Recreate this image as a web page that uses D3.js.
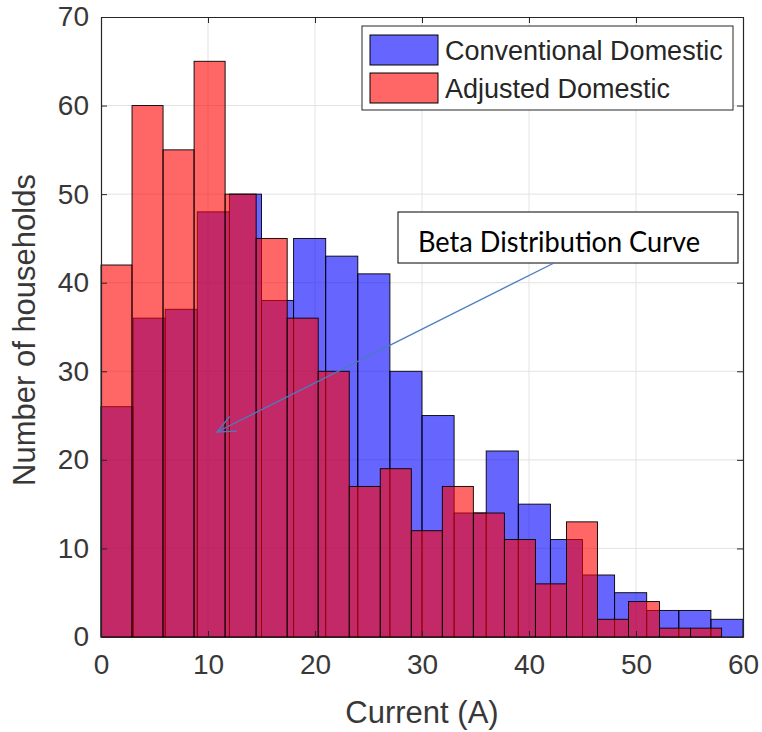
<!DOCTYPE html>
<html>
<head>
<meta charset="utf-8">
<script src="https://cdn.jsdelivr.net/npm/d3@7"></script>
<style>
  body { margin: 0; background: #fff; }
  svg { display: block; }
</style>
</head>
<body>
<div id="chart"></div>
<script>
// histogram bin edges (A) and counts
var blueEdges = [0, 3, 6, 9, 12, 15, 18, 21, 24, 27, 30, 33, 36, 39, 42, 45, 48, 51, 54, 57, 60];
var blueCounts = [26, 36, 37, 48, 50, 38, 45, 43, 41, 30, 25, 14, 21, 15, 11, 7, 5, 3, 3, 2];

var redEdges = [0, 2.9, 5.8, 8.7, 11.6, 14.5, 17.4, 20.3, 23.2, 26.1, 29, 31.9, 34.8, 37.7, 40.6, 43.5, 46.4, 49.3, 52.2, 55.1, 58];
var redCounts = [42, 60, 55, 65, 50, 45, 36, 30, 17, 19, 12, 17, 14, 11, 6, 13, 2, 4, 1, 1];

var seriesNames = ["Conventional Domestic", "Adjusted Domestic"];
var xTicks = [0, 10, 20, 30, 40, 50, 60];
var yTicks = [0, 10, 20, 30, 40, 50, 60, 70];

var width = 762, height = 732;
var margin = {top: 17, right: 19, bottom: 95, left: 101};
var w = width - margin.left - margin.right,
    h = height - margin.top - margin.bottom;

var axisColor = "#262626";
var font = "'Liberation Sans', Arial, Helvetica, sans-serif";

var svg = d3.select("#chart")
  .append("svg")
  .attr("width", width)
  .attr("height", height)
  .append("g")
  .attr("transform", "translate(" + margin.left + "," + margin.top + ")");

var x = d3.scaleLinear().domain([0, 60]).range([0, w]);
var y = d3.scaleLinear().domain([0, 70]).range([h, 0]);

// grid
svg.append("g")
  .selectAll("line")
  .data(xTicks.slice(1, -1))
  .enter()
  .append("line")
    .attr("x1", function(d) { return x(d); })
    .attr("x2", function(d) { return x(d); })
    .attr("y1", 0)
    .attr("y2", h)
    .attr("stroke", "#e3e3e3")
    .attr("stroke-width", 1);

svg.append("g")
  .selectAll("line")
  .data(yTicks.slice(1, -1))
  .enter()
  .append("line")
    .attr("y1", function(d) { return y(d); })
    .attr("y2", function(d) { return y(d); })
    .attr("x1", 0)
    .attr("x2", w)
    .attr("stroke", "#e3e3e3")
    .attr("stroke-width", 1);

// bars, blue first then red on top
function drawHist(edges, counts, color) {
  var bins = counts.map(function(c, i) { return {x0: edges[i], x1: edges[i + 1], n: c}; });
  svg.append("g")
    .selectAll("rect")
    .data(bins)
    .enter()
    .append("rect")
      .attr("x", function(d) { return x(d.x0); })
      .attr("width", function(d) { return x(d.x1) - x(d.x0); })
      .attr("y", function(d) { return y(d.n); })
      .attr("height", function(d) { return y(0) - y(d.n); })
      .attr("fill", color)
      .attr("fill-opacity", 0.6)
      .attr("stroke", "#000")
      .attr("stroke-width", 0.9);
}
drawHist(blueEdges, blueCounts, "#0000ff");
drawHist(redEdges, redCounts, "#ff0000");

// axes with inward ticks
var xAxis = svg.append("g")
  .attr("transform", "translate(0," + h + ")")
  .call(d3.axisBottom(x).tickValues(xTicks).tickSizeInner(-6).tickSizeOuter(0).tickPadding(17));
var yAxis = svg.append("g")
  .call(d3.axisLeft(y).tickValues(yTicks).tickSizeInner(-6).tickSizeOuter(0).tickPadding(12));
svg.append("g")
  .call(d3.axisTop(x).tickValues(xTicks).tickSizeInner(-6).tickSizeOuter(0).tickFormat(""));
svg.append("g")
  .attr("transform", "translate(" + w + ",0)")
  .call(d3.axisRight(y).tickValues(yTicks).tickSizeInner(-6).tickSizeOuter(0).tickFormat(""));

svg.selectAll(".domain").attr("stroke", axisColor).attr("stroke-width", 1.2);
svg.selectAll(".tick line").attr("stroke", axisColor);
svg.selectAll(".tick text")
  .attr("fill", "#383838")
  .style("font-family", font)
  .style("font-size", "28px");

// axis titles
svg.append("text")
  .attr("x", w / 2)
  .attr("y", h + 86)
  .attr("text-anchor", "middle")
  .attr("fill", "#383838")
  .style("font-family", font)
  .style("font-size", "31px")
  .text("Current (A)");

svg.append("text")
  .attr("transform", "rotate(-90)")
  .attr("x", -(313))
  .attr("y", -66)
  .attr("text-anchor", "middle")
  .attr("fill", "#383838")
  .style("font-family", font)
  .style("font-size", "31px")
  .text("Number of households");

// legend
var legend = svg.append("g").attr("transform", "translate(" + (362 - margin.left) + "," + (26 - margin.top) + ")");
legend.append("rect")
  .attr("width", 371)
  .attr("height", 84)
  .attr("fill", "#fff")
  .attr("stroke", axisColor)
  .attr("stroke-width", 1);

var legendColors = ["#0000ff", "#ff0000"];
seriesNames.forEach(function(name, i) {
  legend.append("rect")
    .attr("x", 8)
    .attr("y", 9 + i * 38)
    .attr("width", 68)
    .attr("height", 30)
    .attr("fill", legendColors[i])
    .attr("fill-opacity", 0.6)
    .attr("stroke", "#000")
    .attr("stroke-width", 1);
  legend.append("text")
    .attr("x", 83)
    .attr("y", 34 + i * 38)
    .attr("fill", "#262626")
    .style("font-family", font)
    .style("font-size", "27px")
    .text(name);
});

// annotation: text box with arrow
var ann = svg.append("g").attr("transform", "translate(" + (-margin.left) + "," + (-margin.top) + ")");
ann.append("rect")
  .attr("x", 398)
  .attr("y", 212)
  .attr("width", 340)
  .attr("height", 51)
  .attr("fill", "#fff")
  .attr("stroke", "#000")
  .attr("stroke-width", 1);
ann.append("text")
  .attr("x", 418)
  .attr("y", 252)
  .attr("fill", "#000")
  .attr("textLength", 282)
  .attr("lengthAdjust", "spacingAndGlyphs")
  .style("font-family", "Lato, sans-serif")
  .style("font-weight", "400")
  .style("font-size", "28px")
  .text("Beta Distribution Curve");

var arrowColor = "#4a7cc0";
var ax0 = 554, ay0 = 263, ax1 = 217, ay1 = 432;
ann.append("line")
  .attr("x1", ax0).attr("y1", ay0)
  .attr("x2", ax1).attr("y2", ay1)
  .attr("stroke", arrowColor)
  .attr("stroke-width", 1.3);
var ang = Math.atan2(ay0 - ay1, ax0 - ax1);
var headLen = 20, spread = 0.42;
ann.append("polyline")
  .attr("points", [
    [ax1 + headLen * Math.cos(ang + spread), ay1 + headLen * Math.sin(ang + spread)],
    [ax1, ay1],
    [ax1 + headLen * Math.cos(ang - spread), ay1 + headLen * Math.sin(ang - spread)]
  ].map(function(p) { return p.join(","); }).join(" "))
  .attr("fill", "none")
  .attr("stroke", arrowColor)
  .attr("stroke-width", 1.3);
</script>
</body>
</html>
